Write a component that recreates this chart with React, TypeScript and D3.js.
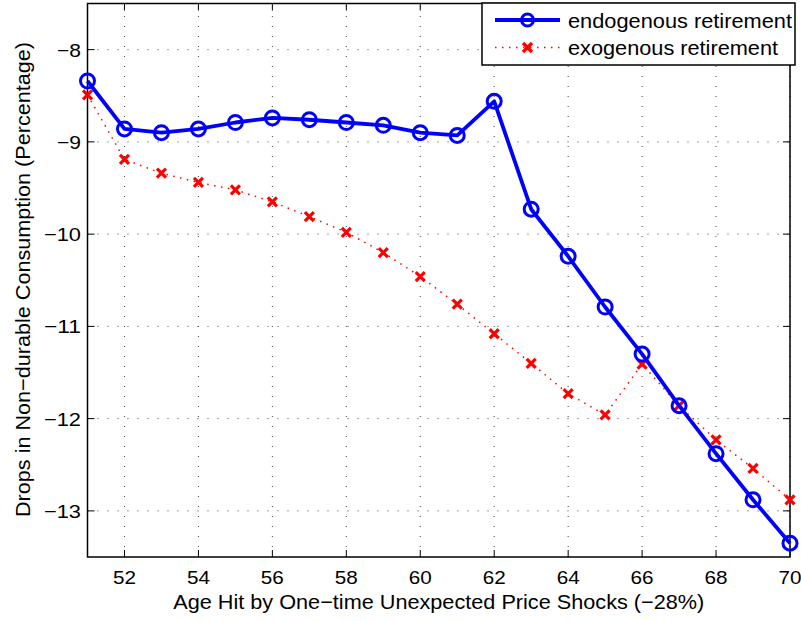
import React, { useEffect, useRef } from 'react';
import * as d3 from 'd3';

const ages = [51, 52, 53, 54, 55, 56, 57, 58, 59, 60, 61, 62, 63, 64, 65, 66, 67, 68, 69, 70];
const endogenous = [-8.34, -8.86, -8.90, -8.86, -8.79, -8.74, -8.76, -8.79, -8.82, -8.90, -8.93, -8.56, -9.73, -10.24, -10.79, -11.30, -11.86, -12.38, -12.88, -13.35];
const exogenous = [-8.49, -9.19, -9.34, -9.44, -9.52, -9.65, -9.81, -9.98, -10.20, -10.46, -10.76, -11.08, -11.40, -11.73, -11.96, -11.41, -11.86, -12.23, -12.54, -12.88];
const xTicks = [52, 54, 56, 58, 60, 62, 64, 66, 68, 70];
const yTicks = [-8, -9, -10, -11, -12, -13];
const legendLabels = ['endogenous retirement', 'exogenous retirement'];

export default function App() {
  const ref = useRef<SVGSVGElement>(null);

  useEffect(() => {
    const svgEl = ref.current;
    if (!svgEl) return;
    const svg = d3.select(svgEl);
    svg.selectAll('*').remove();

    const left = 87.5, right = 790, top = 3.5, bottom = 557;
    const font = 'Liberation Sans, Arial, sans-serif';

    const x = d3.scaleLinear().domain([51, 70]).range([left, right]);
    const y = d3.scaleLinear().domain([-13.5, -7.5]).range([bottom, top]);

    svg.append('rect').attr('x', 0).attr('y', 0).attr('width', 801).attr('height', 621).attr('fill', '#fff');

    // grid
    const grid = svg.append('g').attr('stroke', '#444').attr('stroke-width', 1).attr('stroke-dasharray', '1,9');
    xTicks.forEach(t => {
      grid.append('line').attr('x1', x(t)).attr('x2', x(t)).attr('y1', bottom).attr('y2', top);
    });
    yTicks.forEach(t => {
      grid.append('line').attr('x1', left).attr('x2', right).attr('y1', y(t)).attr('y2', y(t));
    });

    // frame
    svg.append('rect').attr('x', left).attr('y', top).attr('width', right - left).attr('height', bottom - top)
      .attr('fill', 'none').attr('stroke', '#000').attr('stroke-width', 1.5);

    // inward ticks on all sides
    const tk = svg.append('g').attr('stroke', '#000').attr('stroke-width', 1);
    xTicks.forEach(t => {
      tk.append('line').attr('x1', x(t)).attr('x2', x(t)).attr('y1', bottom).attr('y2', bottom - 7);
      tk.append('line').attr('x1', x(t)).attr('x2', x(t)).attr('y1', top).attr('y2', top + 7);
    });
    yTicks.forEach(t => {
      tk.append('line').attr('x1', left).attr('x2', left + 7).attr('y1', y(t)).attr('y2', y(t));
      tk.append('line').attr('x1', right).attr('x2', right - 7).attr('y1', y(t)).attr('y2', y(t));
    });

    // tick labels (reference font is wider than Liberation, so stretch to width)
    svg.append('g').selectAll('text').data(xTicks).enter().append('text')
      .attr('x', d => x(d)).attr('y', 584).attr('text-anchor', 'middle')
      .attr('font-family', font).attr('font-size', 19).attr('fill', '#000')
      .attr('textLength', 23).attr('lengthAdjust', 'spacingAndGlyphs')
      .text(d => String(d));
    svg.append('g').selectAll('text').data(yTicks).enter().append('text')
      .attr('x', 81).attr('y', d => y(d) + 7).attr('text-anchor', 'end')
      .attr('font-family', font).attr('font-size', 19).attr('fill', '#000')
      .attr('textLength', d => (Math.abs(d) >= 10 ? 37 : 24)).attr('lengthAdjust', 'spacingAndGlyphs')
      .text(d => '\u2212' + String(Math.abs(d)));

    // axis labels
    svg.append('text').attr('x', (left + right) / 2).attr('y', 609).attr('text-anchor', 'middle')
      .attr('font-family', font).attr('font-size', 21).attr('fill', '#000')
      .attr('textLength', 531).attr('lengthAdjust', 'spacingAndGlyphs')
      .text('Age Hit by One\u2212time Unexpected Price Shocks (\u221228%)');
    svg.append('text').attr('transform', `translate(29.5,279.5) rotate(-90)`)
      .attr('text-anchor', 'middle')
      .attr('font-family', font).attr('font-size', 21).attr('fill', '#000')
      .attr('textLength', 475).attr('lengthAdjust', 'spacingAndGlyphs')
      .text('Drops in Non\u2212durable Consumption (Percentage)');

    const line = d3.line<number>().x((_, i) => x(ages[i])).y(d => y(d));

    // exogenous
    svg.append('path').datum(exogenous).attr('d', line).attr('fill', 'none')
      .attr('stroke', '#ff0000').attr('stroke-width', 1.5).attr('stroke-dasharray', '1.5,5.5');
    const cross = (g: d3.Selection<SVGGElement, unknown, null, undefined>, cx: number, cy: number) => {
      const s = 4.5;
      g.append('path').attr('d', `M${cx - s},${cy - s}L${cx + s},${cy + s}M${cx - s},${cy + s}L${cx + s},${cy - s}`)
        .attr('stroke', '#ff0000').attr('stroke-width', 3.2).attr('fill', 'none');
    };
    const exoG = svg.append('g');
    exogenous.forEach((v, i) => cross(exoG, x(ages[i]), y(v)));

    // endogenous
    svg.append('path').datum(endogenous).attr('d', line).attr('fill', 'none')
      .attr('stroke', '#0000ff').attr('stroke-width', 3.8).attr('stroke-linejoin', 'round');
    svg.append('g').selectAll('circle').data(endogenous).enter().append('circle')
      .attr('cx', (_, i) => x(ages[i])).attr('cy', d => y(d)).attr('r', 7)
      .attr('fill', 'none').attr('stroke', '#0000ff').attr('stroke-width', 3);

    // legend
    const lg = svg.append('g');
    lg.append('rect').attr('x', 482).attr('y', 3).attr('width', 313).attr('height', 62)
      .attr('fill', '#fff').attr('stroke', '#000').attr('stroke-width', 1.5);
    lg.append('line').attr('x1', 495).attr('x2', 560).attr('y1', 20).attr('y2', 20)
      .attr('stroke', '#0000ff').attr('stroke-width', 3.8);
    lg.append('circle').attr('cx', 527.5).attr('cy', 20).attr('r', 6)
      .attr('fill', 'none').attr('stroke', '#0000ff').attr('stroke-width', 3);
    lg.append('line').attr('x1', 495).attr('x2', 560).attr('y1', 47.5).attr('y2', 47.5)
      .attr('stroke', '#ff0000').attr('stroke-width', 1.5).attr('stroke-dasharray', '1.5,5.5');
    cross(lg, 527.5, 47.5);
    const legendWidths = [224, 210];
    legendLabels.forEach((t, i) => {
      lg.append('text').attr('x', 568).attr('y', 28 + i * 27)
        .attr('font-family', font).attr('font-size', 20).attr('fill', '#000')
        .attr('textLength', legendWidths[i]).attr('lengthAdjust', 'spacingAndGlyphs')
        .text(t);
    });
  }, []);

  return (
    <svg ref={ref} width={801} height={621} style={{ position: 'absolute', left: 0, top: 0 }} />
  );
}
